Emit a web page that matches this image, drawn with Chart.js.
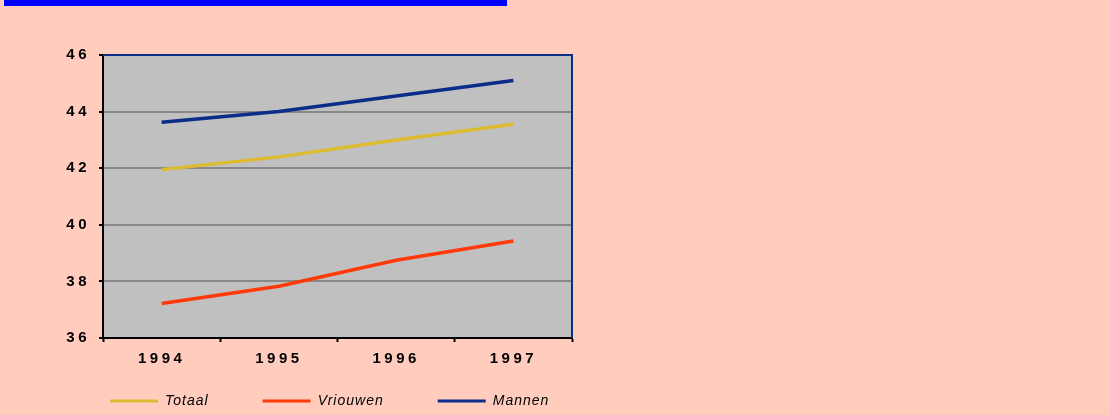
<!DOCTYPE html>
<html>
<head>
<meta charset="utf-8">
<script src="https://cdn.jsdelivr.net/npm/chart.js@4.4.1/dist/chart.umd.min.js"></script>
<style>
  html, body { margin: 0; padding: 0; width: 1110px; height: 415px; overflow: hidden; background: #FFCCBE; }
  #bar { position: absolute; left: 4px; top: 0; width: 503px; height: 6px; background: #0000FF; }
  #wrap { position: absolute; left: 0; top: 0; width: 660px; height: 446px; }
</style>
</head>
<body>
<div id="bar"></div>
<div id="wrap"><canvas id="c" width="660" height="446"></canvas></div>
<script>
const years = ['1994', '1995', '1996', '1997'];
const totaal = [41.95, 42.4, 43.0, 43.55];
const vrouwen = [37.22, 37.83, 38.75, 39.43];
const mannen = [43.62, 44.0, 44.55, 45.1];
const seriesNames = ['Totaal', 'Vriouwen', 'Mannen'];
const yTicks = [36, 38, 40, 42, 44, 46];

const COLORS = ['#DDBB2E', '#FF3A08', '#0B2C88'];

const LEGEND_TOP = 340;

const helperPlugin = {
  id: 'helper',
  beforeUpdate(chart) {
    const lg = chart.legend;
    if (lg && !lg.__patched) {
      const up = lg.update;
      lg.update = function (mw, mh, m) { return up.call(this, 800, mh, m); };
      lg.__patched = true;
    }
  },
  afterLayout(chart) {
    const lg = chart.legend;
    if (lg) {
      lg.width = 800;
      lg.right = lg.left + 800;
      lg.top = LEGEND_TOP;
      lg.bottom = LEGEND_TOP + lg.height;
    }
  },
  beforeLayout(chart) { chart.ctx.letterSpacing = '1px'; },
  beforeDraw(chart) {
    const {ctx, chartArea: a} = chart;
    ctx.letterSpacing = '1px';
    ctx.save();
    ctx.fillStyle = '#C0C0C0';
    ctx.fillRect(a.left, a.top, a.right - a.left, a.bottom - a.top);
    ctx.restore();
  },
  beforeDatasetsDraw(chart) {
    const {ctx, chartArea: a} = chart;
    ctx.save();
    ctx.strokeStyle = '#0B2C88';
    ctx.lineWidth = 2;
    ctx.beginPath();
    ctx.moveTo(a.left, a.top);
    ctx.lineTo(a.right, a.top);
    ctx.lineTo(a.right, a.bottom);
    ctx.stroke();
    ctx.restore();
  },
  afterDatasetsDraw(chart) { chart.ctx.letterSpacing = '3.5px'; },
  afterDraw(chart) { chart.ctx.letterSpacing = '0px'; }
};

const data = {
  labels: years,
  datasets: [totaal, vrouwen, mannen].map((d, i) => ({
    label: seriesNames[i],
    data: d,
    borderColor: COLORS[i],
    backgroundColor: COLORS[i],
    borderWidth: 3.5,
    pointRadius: 0,
    tension: 0
  }))
};

new Chart(document.getElementById('c'), {
  type: 'line',
  data,
  plugins: [helperPlugin],
  options: {
    responsive: false,
    animation: false,
    layout: { padding: { left: 56, right: 88, top: 55, bottom: 0 } },
    plugins: {
      tooltip: { enabled: false },
      legend: {
        position: 'bottom',
        align: 'start',
        labels: {
          boxWidth: 48,
          boxHeight: 3,
          padding: 54,
          color: '#000',
          font: { family: 'Liberation Sans', size: 14, style: 'italic' },
          generateLabels: (chart) => Chart.defaults.plugins.legend.labels.generateLabels(chart)
            .map(l => Object.assign(l, { lineWidth: 0, fillStyle: l.strokeStyle }))
        }
      }
    },
    scales: {
      x: {
        offset: true,
        afterFit: (s) => { s.height = 30; },
        grid: { display: true, drawOnChartArea: false, offset: true, tickLength: 4, tickColor: '#000', tickWidth: 2 },
        border: { display: true, color: '#000', width: 2 },
        ticks: {
          z: 1, maxRotation: 0, autoSkip: false, padding: 8, color: '#000',
          font: { family: 'Liberation Sans', size: 15, weight: 'bold' }
        }
      },
      y: {
        min: 36, max: 46,
        afterFit: (s) => { s.width = 47; },
        afterBuildTicks: (s) => { s.ticks = yTicks.map(v => ({ value: v })); },
        grid: {
          color: (c) => (c.tick && (c.tick.value === 36 || c.tick.value === 46)) ? 'rgba(0,0,0,0)' : '#888888',
          lineWidth: 2, tickLength: 4, tickColor: '#000', tickWidth: 2
        },
        border: { display: true, color: '#000', width: 2 },
        ticks: {
          z: 1, padding: 9, color: '#000',
          font: { family: 'Liberation Sans', size: 15, weight: 'bold' }
        }
      }
    }
  }
});
</script>
</body>
</html>
